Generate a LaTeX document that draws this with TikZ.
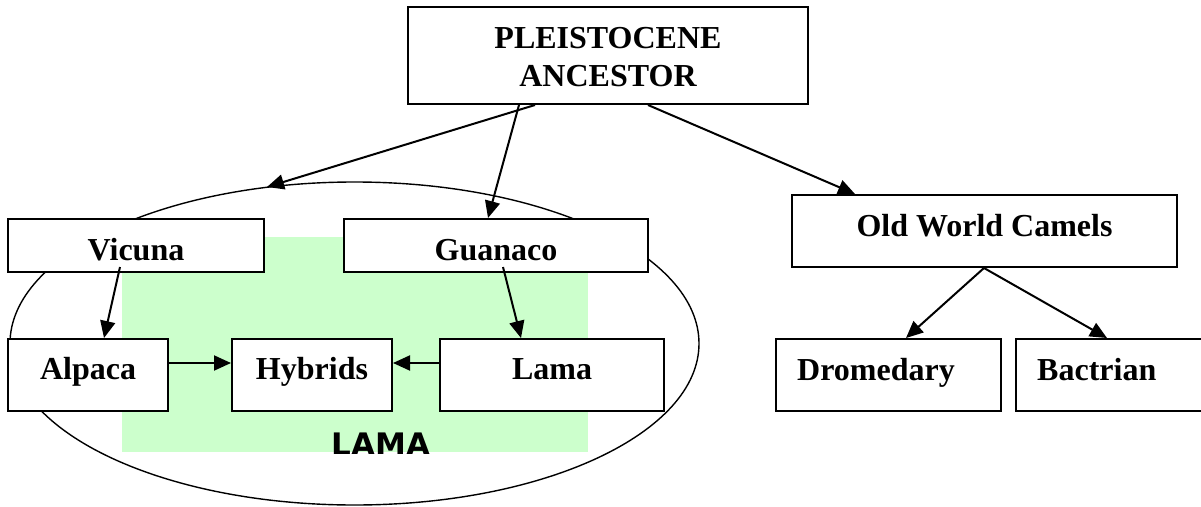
\documentclass[tikz,border=0pt]{standalone}
\usepackage{fontspec}
\setmainfont{Liberation Serif}
\newfontfamily\lamafont{DejaVu Sans}
\usetikzlibrary{arrows.meta,shapes.geometric}
\definecolor{lamagreen}{HTML}{CCFFCC}
\begin{document}
\begin{tikzpicture}[x=1pt,y=-1pt,
  box/.style={draw=black,fill=white,line width=2pt,inner sep=0pt,rectangle},
  lbl/.style={font=\fontsize{32}{38}\selectfont\bfseries,inner sep=0pt,anchor=base},
  arr/.style={line width=2pt,-{Triangle[length=17pt,width=15pt]}}]
\useasboundingbox (0,0) rectangle (1201,506);
% green area
\fill[lamagreen] (122,237) rectangle (588,452);
\begin{scope}
\clip (122,237) rectangle (588,453);
\node[inner sep=0pt,anchor=base,font=\lamafont\bfseries\fontsize{31}{36}\selectfont] (lamalbl) at (381,455) {LAMA};
\end{scope}
% ellipse
\node[draw=black,line width=1.4pt,ellipse,inner sep=0pt,minimum width=689pt,minimum height=323pt] (ell) at (354.5,343.5) {};
\coordinate (etop) at (267,187);
% boxes
\node[box,minimum width=400pt,minimum height=97pt] (anc) at (608,55.5) {};
\node[box,minimum width=256pt,minimum height=53pt] (vic) at (136,245.5) {};
\node[box,minimum width=304pt,minimum height=53pt] (gua) at (496,245.5) {};
\node[box,minimum width=160pt,minimum height=72pt] (alp) at (88,375) {};
\node[box,minimum width=160pt,minimum height=72pt] (hyb) at (312,375) {};
\node[box,minimum width=224pt,minimum height=72pt] (lam) at (552,375) {};
\node[box,minimum width=385pt,minimum height=72pt] (owc) at (984.5,231) {};
\node[box,minimum width=225pt,minimum height=72pt] (dro) at (888.5,375) {};
\node[box,minimum width=194pt,minimum height=72pt] (bac) at (1113,375) {};
% labels
\node[lbl] (t1) at (608,48) {PLEISTOCENE};
\node[lbl] (t2) at (608,86) {ANCESTOR};
\node[lbl] (tvic) at (136,260) {Vicuna};
\node[lbl] (tgua) at (496,260) {Guanaco};
\node[lbl] (talp) at (88,379) {Alpaca};
\node[lbl] (thyb) at (312,379) {Hybrids};
\node[lbl] (tlam) at (552,379) {Lama};
\node[lbl] (towc) at (984.5,236) {Old World Camels};
\node[lbl,anchor=base west] (tdro) at (797,380) {Dromedary};
\node[lbl,anchor=base west] (tbac) at (1037,380) {Bactrian};
% arrows
\draw[arr] (535,0 |- anc.south) -- (etop);
\draw[arr] (519,0 |- anc.south) -- (488,0 |- gua.north);
\draw[arr] (648,0 |- anc.south) -- (855,0 |- owc.north);
\draw[arr] (120,267) -- (104,0 |- alp.north);
\draw[arr] (503,267) -- (521,0 |- lam.north);
\draw[arr] (alp.east |- 0,363) -- (hyb.west |- 0,363);
\draw[arr] (lam.west |- 0,363) -- (hyb.east |- 0,363);
\draw[arr] (984,0 |- owc.south) -- (906,0 |- dro.north);
\draw[arr] (984,0 |- owc.south) -- (1107,0 |- bac.north);
\end{tikzpicture}
\end{document}
